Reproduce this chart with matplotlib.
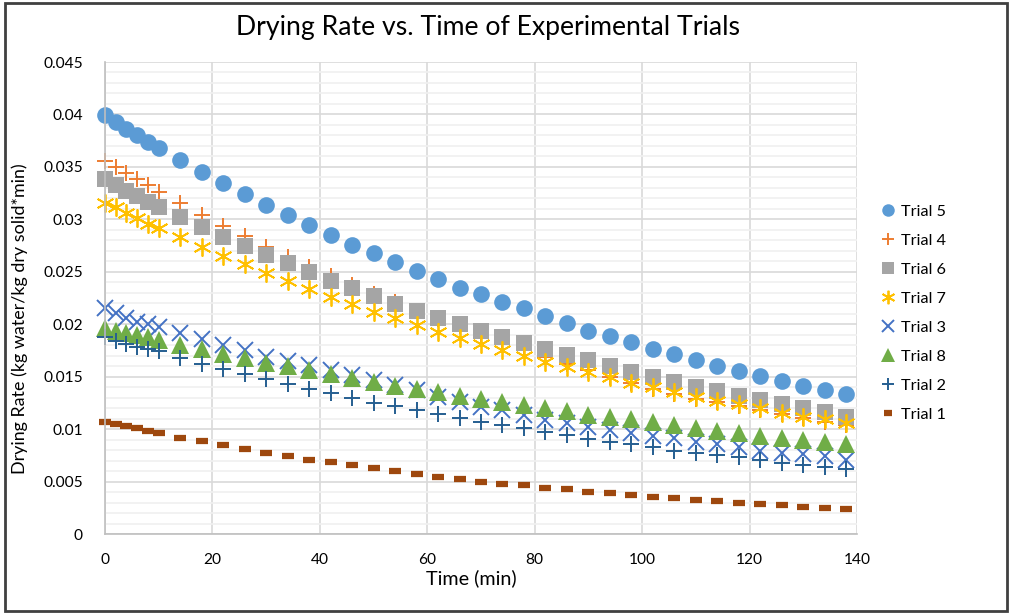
import matplotlib
matplotlib.use("Agg")
import matplotlib.pyplot as plt
from matplotlib.patches import Rectangle
from matplotlib.ticker import MultipleLocator

plt.rcParams['font.family'] = ['Lato', 'DejaVu Sans']

time = [0, 2, 4, 6, 8, 10, 14, 18, 22, 26, 30, 34, 38, 42, 46, 50, 54, 58, 62, 66,
        70, 74, 78, 82, 86, 90, 94, 98, 102, 106, 110, 114, 118, 122, 126, 130, 134, 138]

trial5 = [0.0399, 0.0393, 0.0386, 0.0380, 0.0374, 0.0368, 0.0357, 0.0345, 0.0335, 0.0324,
          0.0314, 0.0304, 0.0295, 0.0285, 0.0276, 0.0268, 0.0259, 0.0251, 0.0243, 0.0235,
          0.0229, 0.0221, 0.0215, 0.0208, 0.0201, 0.0194, 0.0189, 0.0183, 0.0176, 0.0172,
          0.0166, 0.0160, 0.0155, 0.0151, 0.0146, 0.0141, 0.0137, 0.0133]
trial4 = [0.0356, 0.0350, 0.0344, 0.0338, 0.0333, 0.0326, 0.0316, 0.0304, 0.0294, 0.0284,
          0.0274, 0.0264, 0.0255, 0.0246, 0.0237, 0.0229, 0.0221, 0.0213, 0.0205, 0.0198,
          0.0190, 0.0183, 0.0176, 0.0169, 0.0162, 0.0156, 0.0150, 0.0144, 0.0138, 0.0133,
          0.0129, 0.0126, 0.0122, 0.0118, 0.0114, 0.0111, 0.0107, 0.0104]
trial6 = [0.0338, 0.0333, 0.0327, 0.0322, 0.0317, 0.0312, 0.0302, 0.0293, 0.0283, 0.0275,
          0.0266, 0.0258, 0.0250, 0.0241, 0.0235, 0.0227, 0.0219, 0.0213, 0.0206, 0.0200,
          0.0194, 0.0188, 0.0182, 0.0176, 0.0171, 0.0166, 0.0160, 0.0154, 0.0150, 0.0145,
          0.0140, 0.0136, 0.0132, 0.0128, 0.0124, 0.0120, 0.0116, 0.0112]
trial7 = [0.0316, 0.0312, 0.0306, 0.0301, 0.0296, 0.0292, 0.0283, 0.0274, 0.0265, 0.0257,
          0.0249, 0.0241, 0.0234, 0.0226, 0.0219, 0.0212, 0.0206, 0.0199, 0.0193, 0.0187,
          0.0181, 0.0175, 0.0170, 0.0164, 0.0159, 0.0154, 0.0150, 0.0144, 0.0140, 0.0135,
          0.0131, 0.0127, 0.0124, 0.0120, 0.0115, 0.0112, 0.0110, 0.0106]
trial3 = [0.0215, 0.0211, 0.0206, 0.0202, 0.0200, 0.0197, 0.0192, 0.0186, 0.0180, 0.0175,
          0.0169, 0.0165, 0.0161, 0.0156, 0.0152, 0.0147, 0.0142, 0.0137, 0.0131, 0.0126,
          0.0121, 0.0118, 0.0113, 0.0109, 0.0106, 0.0102, 0.0099, 0.0096, 0.0093, 0.0092,
          0.0088, 0.0086, 0.0083, 0.0079, 0.0077, 0.0076, 0.0074, 0.0071]
trial8 = [0.0196, 0.0194, 0.0192, 0.0190, 0.0188, 0.0185, 0.0180, 0.0176, 0.0172, 0.0168,
          0.0163, 0.0160, 0.0156, 0.0153, 0.0149, 0.0145, 0.0141, 0.0138, 0.0135, 0.0132,
          0.0129, 0.0126, 0.0123, 0.0120, 0.0117, 0.0113, 0.0112, 0.0110, 0.0107, 0.0104,
          0.0101, 0.0098, 0.0096, 0.0093, 0.0092, 0.0090, 0.0088, 0.0086]
trial2 = [0.0188, 0.0184, 0.0181, 0.0178, 0.0176, 0.0174, 0.0168, 0.0162, 0.0157, 0.0153,
          0.0148, 0.0143, 0.0138, 0.0134, 0.0130, 0.0125, 0.0122, 0.0118, 0.0114, 0.0111,
          0.0107, 0.0104, 0.0101, 0.0097, 0.0094, 0.0091, 0.0088, 0.0086, 0.0083, 0.0079,
          0.0077, 0.0075, 0.0073, 0.0071, 0.0068, 0.0066, 0.0064, 0.0062]
trial1 = [0.0107, 0.0105, 0.0103, 0.0101, 0.0098, 0.0096, 0.0092, 0.0089, 0.0085, 0.0081,
          0.0077, 0.0074, 0.0071, 0.0069, 0.0066, 0.0063, 0.0060, 0.0057, 0.0054, 0.0052,
          0.0050, 0.0048, 0.0047, 0.0044, 0.0043, 0.0040, 0.0039, 0.0037, 0.0035, 0.0034,
          0.0032, 0.0031, 0.0030, 0.0029, 0.0028, 0.0026, 0.0025, 0.0024]

labels = ['Trial 5', 'Trial 4', 'Trial 6', 'Trial 7', 'Trial 3', 'Trial 8', 'Trial 2', 'Trial 1']
series = [trial5, trial4, trial6, trial7, trial3, trial8, trial2, trial1]
ytick_labels = ['0', '0.005', '0.01', '0.015', '0.02', '0.025', '0.03', '0.035', '0.04', '0.045']
styles = [
    dict(marker='o', color='#5B9BD5', ms=12, mew=0),
    dict(marker='+', color='#ED7D31', ms=12, mew=1.4),
    dict(marker='s', color='#A5A5A5', ms=12, mew=0),
    dict(marker=(6, 2, 0), color='#FFC000', ms=13, mew=1.3),
    dict(marker='x', color='#4472C4', ms=11, mew=1.4),
    dict(marker='^', color='#70AD47', ms=13, mew=0),
    dict(marker='+', color='#255E91', ms=12, mew=1.4),
    dict(marker='_', color='#9E480E', ms=8, mew=4.5),
]

W, H = 1009, 613
fig = plt.figure(figsize=(W / 100, H / 100), dpi=100)
ax = fig.add_axes([105 / W, 1 - 534 / H, (857 - 105) / W, (534 - 62) / H])

for lab, ys, st in zip(labels, series, styles):
    ax.plot(time, ys, linestyle='none', marker=st['marker'], color=st['color'],
            markersize=st['ms'], markeredgewidth=st['mew'], label=lab, clip_on=False)

ax.set_xlim(0, 140)
ax.set_ylim(0, 0.045)
ax.xaxis.set_major_locator(MultipleLocator(20))
ax.set_yticks([i * 0.005 for i in range(10)])
ax.set_yticklabels(ytick_labels)
ax.yaxis.set_minor_locator(MultipleLocator(0.001))
ax.grid(which='major', color='#D9D9D9', linewidth=1.2)
ax.grid(which='minor', axis='y', color='#F0F0F0', linewidth=1.2)
ax.set_axisbelow(True)
for s in ['top', 'right']:
    ax.spines[s].set_visible(False)
for s in ['left', 'bottom']:
    ax.spines[s].set_color('#BFBFBF')
    ax.spines[s].set_linewidth(1.2)
ax.tick_params(which='both', length=0, labelsize=11.2, colors='#000000')
ax.tick_params(axis='x', pad=14)
ax.tick_params(axis='y', pad=16)

fig.text(471 / W, 1 - 578 / H, 'Time (min)', ha='center', va='center', fontsize=14.2)
fig.text(20 / W, 1 - 319 / H, 'Drying Rate (kg water/kg dry solid*min)',
         rotation=90, ha='center', va='center', fontsize=12.9)
fig.text(488 / W, 1 - 27 / H, 'Drying Rate vs. Time of Experimental Trials',
         ha='center', va='center', fontsize=19.2)

leg = ax.legend(loc='center left', bbox_to_anchor=(867 / W, 1 - 313 / H),
                bbox_transform=fig.transFigure, frameon=False, fontsize=11.7,
                labelspacing=0.9, handlelength=0.8, handletextpad=0.4, markerscale=0.75)

fig.patches.append(Rectangle((5 / W, 2 / H), (1007 - 5) / W, (610 - 2) / H,
                             transform=fig.transFigure, fill=False,
                             edgecolor='#404040', linewidth=2))

fig.savefig('out.png', dpi=100)
